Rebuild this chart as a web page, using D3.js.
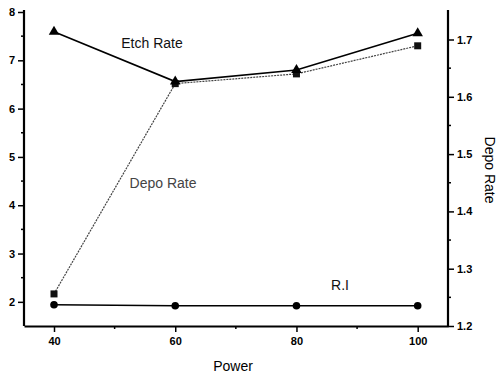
<!DOCTYPE html>
<html>
<head>
<meta charset="utf-8">
<script src="https://cdn.jsdelivr.net/npm/d3@7"></script>
<style>
  body { margin: 0; background: #fff; }
  text { font-family: "Liberation Sans", Arial, sans-serif; }
</style>
</head>
<body>
<div id="chart"></div>
<script>
// Data
const power = [40, 60, 80, 100];
const etchRate = [7.59, 6.56, 6.80, 7.56];     // left axis
const riValues = [1.94, 1.92, 1.92, 1.92];     // left axis
const depoRate = [1.256, 1.623, 1.640, 1.689]; // right axis
const xTicks = [40, 60, 80, 100];
const leftTicks = [2, 3, 4, 5, 6, 7, 8];
const rightTicks = [1.2, 1.3, 1.4, 1.5, 1.6, 1.7];

const width = 498, height = 376;
const margin = { top: 12, right: 50, bottom: 50, left: 24 };
const plotW = width - margin.left - margin.right;
const plotH = height - margin.top - margin.bottom;

const svg = d3.select("#chart").append("svg")
    .attr("width", width)
    .attr("height", height);

const g = svg.append("g")
    .attr("transform", `translate(${margin.left},${margin.top})`);

// Scales
const x = d3.scaleLinear().domain([35.05, 105]).range([0, plotW]);
const yL = d3.scaleLinear().domain([1.5, 8]).range([plotH, 0]);
const yR = d3.scaleLinear().domain([1.2, 1.748]).range([plotH, 0]);

// Bottom axis
const xAxis = g.append("g").attr("transform", `translate(0,${plotH})`)
    .call(d3.axisBottom(x).tickValues(xTicks).tickSize(6).tickPadding(5).tickSizeOuter(0));
g.append("g").selectAll("line").data([50, 70, 90]).enter().append("line")
    .attr("x1", d => x(d)).attr("x2", d => x(d))
    .attr("y1", plotH).attr("y2", plotH + 3)
    .attr("stroke", "#000").attr("stroke-width", 1.5);

// Left axis
const leftAxis = g.append("g")
    .call(d3.axisLeft(yL).tickValues(leftTicks).tickFormat(d3.format("d"))
        .tickSize(6).tickPadding(3).tickSizeOuter(0));
g.append("g").selectAll("line").data([2.5, 3.5, 4.5, 5.5, 6.5, 7.5]).enter().append("line")
    .attr("x1", 0).attr("x2", -3)
    .attr("y1", d => yL(d)).attr("y2", d => yL(d))
    .attr("stroke", "#000").attr("stroke-width", 1.5);

// Right axis
const rightAxis = g.append("g").attr("transform", `translate(${plotW},0)`)
    .call(d3.axisRight(yR).tickValues(rightTicks).tickSize(6).tickPadding(3)
        .tickFormat(d3.format(".1f")).tickSizeOuter(0));
g.append("g").selectAll("line").data([1.25, 1.35, 1.45, 1.55, 1.65]).enter().append("line")
    .attr("x1", plotW).attr("x2", plotW + 3)
    .attr("y1", d => yR(d)).attr("y2", d => yR(d))
    .attr("stroke", "#000").attr("stroke-width", 1.5);

[xAxis, leftAxis, rightAxis].forEach(ax => {
    ax.select(".domain").attr("stroke-width", 2.2);
    ax.selectAll(".tick line").attr("stroke-width", 1.5);
    ax.selectAll(".tick text")
        .attr("font-size", 11)
        .attr("font-weight", "bold")
        .attr("fill", "#000")
        .style("font-family", "Liberation Sans, Arial, sans-serif");
});
leftAxis.select(".domain").attr("d", `M0,${plotH}V-2`);
rightAxis.select(".domain").attr("d", `M0,${plotH}V-2`);

// Lines
const lineL = vals => d3.line().x((d, i) => x(power[i])).y(d => yL(d))(vals);
const lineR = vals => d3.line().x((d, i) => x(power[i])).y(d => yR(d))(vals);

g.append("path").attr("d", lineR(depoRate))
    .attr("fill", "none").attr("stroke", "#444").attr("stroke-width", 1.2)
    .attr("stroke-dasharray", "2,1");
g.append("path").attr("d", lineL(etchRate))
    .attr("fill", "none").attr("stroke", "#000").attr("stroke-width", 1.6);
g.append("path").attr("d", lineL(riValues))
    .attr("fill", "none").attr("stroke", "#000").attr("stroke-width", 1.6);

// Markers
g.selectAll(".sq").data(depoRate).enter().append("rect")
    .attr("class", "sq")
    .attr("x", (d, i) => x(power[i]) - 3.5).attr("y", d => yR(d) - 3.5)
    .attr("width", 7).attr("height", 7).attr("fill", "#111");
g.selectAll(".tri").data(etchRate).enter().append("path")
    .attr("class", "tri")
    .attr("transform", (d, i) => `translate(${x(power[i])},${yL(d)})`)
    .attr("d", d3.symbol(d3.symbolTriangle, 48)())
    .attr("fill", "#000");
g.selectAll(".dot").data(riValues).enter().append("circle")
    .attr("class", "dot")
    .attr("cx", (d, i) => x(power[i])).attr("cy", d => yL(d))
    .attr("r", 3.8).attr("fill", "#000");

// Annotations
svg.append("text").attr("x", 152).attr("y", 48).attr("text-anchor", "middle")
    .attr("font-size", 14).attr("fill", "#111").text("Etch Rate");
svg.append("text").attr("x", 163).attr("y", 188).attr("text-anchor", "middle")
    .attr("font-size", 14).attr("fill", "#444").text("Depo Rate");
svg.append("text").attr("x", 340).attr("y", 290).attr("text-anchor", "middle")
    .attr("font-size", 14).attr("fill", "#111").text("R.I");

// Axis titles
svg.append("text").attr("x", 233).attr("y", 371).attr("text-anchor", "middle")
    .attr("font-size", 14).attr("fill", "#000").text("Power");
svg.append("text").attr("transform", "translate(485,170) rotate(90)")
    .attr("text-anchor", "middle").attr("font-size", 14).attr("fill", "#000")
    .text("Depo Rate");
</script>
</body>
</html>
